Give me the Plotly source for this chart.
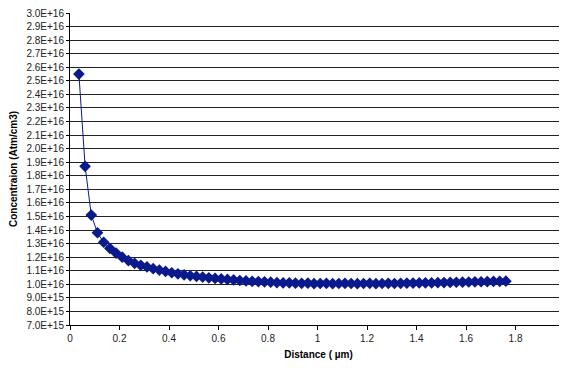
import plotly.graph_objects as go

distance_um = [0.036, 0.061, 0.086, 0.111, 0.136, 0.161, 0.186, 0.211, 0.236, 0.261,
               0.286, 0.311, 0.336, 0.361, 0.386, 0.411, 0.436, 0.461, 0.486, 0.511,
               0.536, 0.561, 0.586, 0.611, 0.636, 0.661, 0.686, 0.711, 0.736, 0.761,
               0.786, 0.811, 0.836, 0.861, 0.886, 0.911, 0.936, 0.961, 0.986, 1.011,
               1.036, 1.061, 1.086, 1.111, 1.136, 1.161, 1.186, 1.211, 1.236, 1.261,
               1.286, 1.311, 1.336, 1.361, 1.386, 1.411, 1.436, 1.461, 1.486, 1.511,
               1.536, 1.561, 1.586, 1.611, 1.636, 1.661, 1.686, 1.711, 1.736, 1.761]

concentration_e16 = [2.55, 1.87, 1.51, 1.38, 1.31, 1.265, 1.23, 1.20, 1.175, 1.155,
                     1.14, 1.128, 1.115, 1.105, 1.095, 1.085, 1.077, 1.07, 1.063, 1.058,
                     1.053, 1.048, 1.044, 1.040, 1.036, 1.032, 1.028, 1.025, 1.022, 1.020,
                     1.018, 1.016, 1.012, 1.010, 1.011, 1.008, 1.007, 1.008, 1.005, 1.006,
                     1.007, 1.005, 1.006, 1.007, 1.006, 1.005, 1.006, 1.007, 1.005, 1.006,
                     1.007, 1.006, 1.007, 1.008, 1.009, 1.010, 1.011, 1.011, 1.012, 1.013,
                     1.014, 1.015, 1.016, 1.017, 1.018, 1.019, 1.020, 1.021, 1.022, 1.023]

y_tick_vals = [0.7, 0.8, 0.9, 1.0, 1.1, 1.2, 1.3, 1.4, 1.5, 1.6, 1.7, 1.8, 1.9, 2.0,
               2.1, 2.2, 2.3, 2.4, 2.5, 2.6, 2.7, 2.8, 2.9, 3.0]
y_tick_text = ["7.0E+15", "8.0E+15", "9.0E+15", "1.0E+16", "1.1E+16", "1.2E+16",
               "1.3E+16", "1.4E+16", "1.5E+16", "1.6E+16", "1.7E+16", "1.8E+16",
               "1.9E+16", "2.0E+16", "2.1E+16", "2.2E+16", "2.3E+16", "2.4E+16",
               "2.5E+16", "2.6E+16", "2.7E+16", "2.8E+16", "2.9E+16", "3.0E+16"]
x_tick_vals = [0, 0.2, 0.4, 0.6, 0.8, 1.0, 1.2, 1.4, 1.6, 1.8, 2.0]
x_tick_text = ["0", "0.2", "0.4", "0.6", "0.8", "1", "1.2", "1.4", "1.6", "1.8", "2"]

color = "#0a1a8c"
font = "Liberation Sans, Arial, sans-serif"

fig = go.Figure(go.Scatter(
    x=distance_um, y=concentration_e16, mode="lines+markers",
    line=dict(color=color, width=1),
    marker=dict(symbol="diamond", size=9, color=color),
    showlegend=False,
    cliponaxis=False,
))

fig.update_layout(
    width=567, height=368,
    margin=dict(l=62, r=8, t=5, b=51),
    paper_bgcolor="white", plot_bgcolor="white",
    font=dict(family=font, size=10, color="#222222"),
    xaxis=dict(
        range=[0, 2.008], tickvals=x_tick_vals, ticktext=x_tick_text, automargin=False,
        ticklabeloverflow="allow",
        showgrid=False, zeroline=False, showline=True, linecolor="black", linewidth=1,
        ticks="outside", ticklen=4, tickcolor="black",
        title=dict(text="<b>Distance ( µm)</b>", font=dict(size=10, color="black"), standoff=7),
    ),
    yaxis=dict(
        range=[0.7, 3.0], tickvals=y_tick_vals, ticktext=y_tick_text, automargin=False,
        ticklabeloverflow="allow",
        showgrid=True, gridcolor="#222222", gridwidth=1,
        zeroline=False, showline=True, linecolor="black", linewidth=1,
        ticks="outside", ticklen=3, tickcolor="black",
        title=dict(text="<b>Concentraion (Atm/cm3)</b>", font=dict(size=10, color="black"), standoff=12),
    ),
)

fig.write_html("out.html")
